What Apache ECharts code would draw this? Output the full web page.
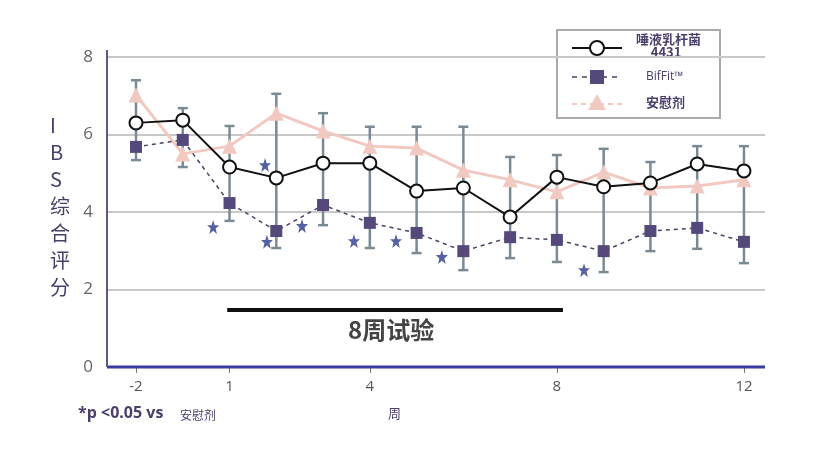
<!DOCTYPE html>
<html><head><meta charset="utf-8">
<script src="https://cdn.jsdelivr.net/npm/echarts@6/dist/echarts.min.js"></script>
<style>html,body{margin:0;background:#fff}#c{width:838px;height:471px}</style></head>
<body><div id="c"></div>
<script>
const weeks = ['-2','-1','1','2','3','4','5','6','7','8','9','10','11','12'];
const lacto = [6.3,6.37,5.16,4.88,5.26,5.26,4.54,4.62,3.87,4.9,4.65,4.75,5.24,5.06];
const biffit = [5.68,5.86,4.23,3.51,4.18,3.72,3.46,2.99,3.35,3.28,2.99,3.51,3.59,3.23];
const placebo = [7.02,5.5,5.7,6.55,6.09,5.7,5.65,5.08,4.83,4.52,5.03,4.62,4.67,4.83];
const errHigh = [7.4,6.68,6.22,7.05,6.55,6.2,6.2,6.2,5.42,5.47,5.63,5.29,5.7,5.7];
const errLow = [5.34,5.16,3.77,3.07,3.66,3.07,2.94,2.5,2.81,2.71,2.45,2.99,3.05,2.68];
const starX = [1.65,2.76,2.8,3.55,4.66,5.56,6.54,9.58];
const starY = [3.61,5.21,3.23,3.64,3.25,3.25,2.84,2.5];
const labelIdx = [0,2,5,9,13];
const yTicks = [0,2,4,6,8];

const purple = '#4a3f6b';
const idx = weeks.map((w,i)=>i);
const pts = a => a.map((v,i)=>[i,v]);
const starPath = 'path://M0,-10 L2.5,-3 L9.5,-3 L4,1.5 L6,9 L0,4.5 L-6,9 L-4,1.5 L-9.5,-3 L-2.5,-3 Z';

const chart = echarts.init(document.getElementById('c'));
chart.setOption({
  animation:false,
  grid:{left:107,right:73,top:57,bottom:104},
  xAxis:{type:'value',min:-0.62,max:13.45,
    axisLine:{show:false},splitLine:{show:false},
    axisTick:{show:true,customValues:labelIdx,length:6,lineStyle:{color:'#777'}},
    axisLabel:{customValues:labelIdx,formatter:v=>weeks[Math.round(v)],color:'#555',fontSize:15,margin:12,fontFamily:'Open Sans'}},
  yAxis:{type:'value',min:0,max:8,interval:2,
    axisLine:{show:false},
    axisTick:{show:false},
    splitLine:{lineStyle:{color:'#c8c8c8',width:2}},
    axisLabel:{color:'#666',fontSize:17,margin:14,fontFamily:'Open Sans'}},
  graphic:[
    {type:'line',z:100,shape:{x1:107,y1:367,x2:765,y2:367},style:{stroke:'#3a3aa0',lineWidth:3}},
    {type:'line',z:100,shape:{x1:107,y1:50,x2:107,y2:367},style:{stroke:'#5a5a8a',lineWidth:2}},
    {type:'text',left:50,top:112,style:{text:'I\nB\nS\n综\n合\n评\n分',fill:purple,font:'20px "Noto Sans CJK SC"',lineHeight:27,align:'center'}},
    {type:'text',left:348,top:318,style:{text:'8周试验',fill:'#444',font:'bold 24px "Noto Sans CJK SC"'}},
    {type:'text',left:78,top:405,style:{text:'*p <0.05 vs',fill:purple,font:'bold 16px "Open Sans"'}},
    {type:'text',left:180,top:409,style:{text:'安慰剂',fill:purple,font:'12px "Noto Sans CJK SC"'}},
    {type:'text',left:388,top:407,style:{text:'周',fill:purple,font:'13px "Noto Sans CJK SC"'}},
    {type:'rect',shape:{x:557,y:30,width:163,height:88},style:{fill:'#fff',stroke:'#aaa',lineWidth:2}},
    {type:'line',shape:{x1:572,y1:48,x2:622,y2:48},style:{stroke:'#111',lineWidth:2}},
    {type:'circle',shape:{cx:597,cy:48,r:7},style:{fill:'#fff',stroke:'#111',lineWidth:2}},
    {type:'text',left:636,top:33,style:{text:'唾液乳杆菌\n     4431',fill:purple,font:'bold 13px "Noto Sans CJK SC"',lineHeight:13}},
    {type:'line',shape:{x1:572,y1:77,x2:622,y2:77},style:{stroke:'#4a4060',lineWidth:1.5,lineDash:[5,5]}},
    {type:'rect',shape:{x:590,y:70,width:14,height:14},style:{fill:'#54497a'}},
    {type:'text',left:646,top:71,style:{text:'BifFit™',fill:purple,font:'12px "Open Sans"'}},
    {type:'line',shape:{x1:572,y1:104,x2:622,y2:104},style:{stroke:'#f2c9c1',lineWidth:2,lineDash:[5,4]}},
    {type:'polygon',shape:{points:[[597,94],[606,110],[588,110]]},style:{fill:'#f2c9c1'}},
    {type:'text',left:646,top:96,style:{text:'安慰剂',fill:purple,font:'bold 13px "Noto Sans CJK SC"'}}
  ],
  series:[
    {type:'custom',z:1,data:idx.map(i=>[i,errLow[i],errHigh[i]]),
      renderItem:(p,api)=>{
        const lo=api.coord([api.value(0),api.value(1)]), hi=api.coord([api.value(0),api.value(2)]);
        const s={stroke:'#7a8a94',lineWidth:2.5};
        return {type:'group',children:[
          {type:'line',shape:{x1:lo[0],y1:lo[1],x2:hi[0],y2:hi[1]},style:s},
          {type:'line',shape:{x1:lo[0]-5,y1:lo[1],x2:lo[0]+5,y2:lo[1]},style:s},
          {type:'line',shape:{x1:hi[0]-5,y1:hi[1],x2:hi[0]+5,y2:hi[1]},style:s}]};
      }},
    {type:'line',z:3,data:pts(placebo),symbol:'triangle',symbolSize:15,
      lineStyle:{color:'#f2c9c1',width:3},itemStyle:{color:'#f2c9c1'}},
    {type:'line',z:4,data:pts(biffit),symbol:'rect',symbolSize:12,
      lineStyle:{color:'#4a4060',width:1.5,type:[4,4]},itemStyle:{color:'#54497a'}},
    {type:'line',z:5,data:pts(lacto),symbol:'circle',symbolSize:13,
      lineStyle:{color:'#111',width:2},itemStyle:{color:'#fff',borderColor:'#111',borderWidth:2}},
    {type:'scatter',z:6,data:starX.map((x,i)=>[x,starY[i]]),symbol:starPath,symbolSize:[12,14],
      itemStyle:{color:'#2a3a8a'}},
    {type:'line',z:2,data:[[1.95,1.47],[9.13,1.47]],symbol:'none',lineStyle:{color:'#111',width:4}}
  ]
});
</script></body></html>
